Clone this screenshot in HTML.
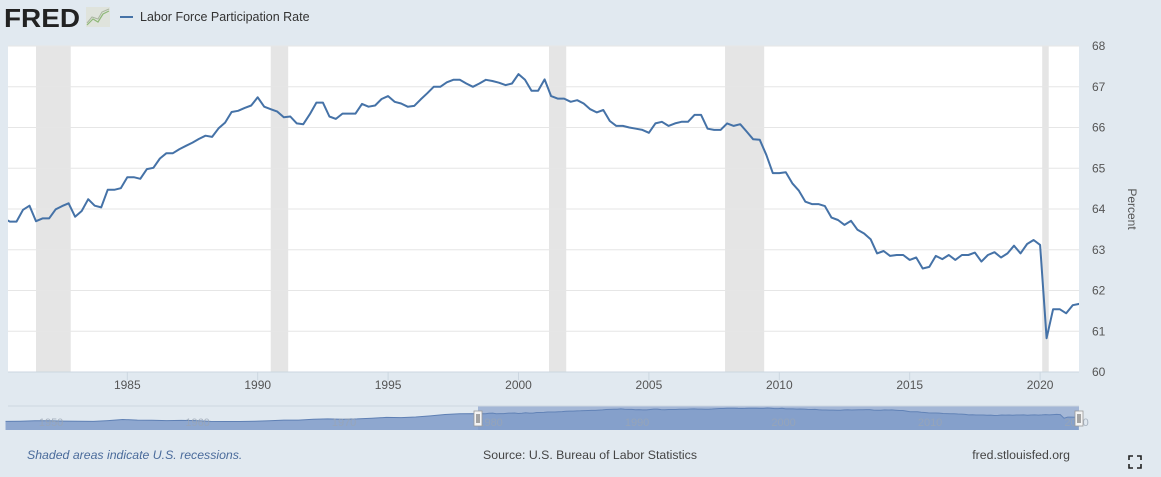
<!DOCTYPE html>
<html><head><meta charset="utf-8"><style>
body{margin:0;background:#e1e9f0;font-family:"Liberation Sans",sans-serif;}
svg{display:block}
</style></head><body>
<svg width="1161" height="477" viewBox="0 0 1161 477" xmlns="http://www.w3.org/2000/svg">
<rect width="1161" height="477" fill="#e1e9f0"/>
<g>
<text x="4" y="27" font-size="26" font-weight="bold" fill="#222" textLength="76" lengthAdjust="spacingAndGlyphs">FRED</text>
<rect x="86" y="7" width="24" height="20" fill="#dfe3dc"/>
<polyline points="87,25 93,19 98,22 103,14 109,11" fill="none" stroke="#8fb878" stroke-width="1.2"/>
<polyline points="87,23 92,17 98,19 102,12 109,9" fill="none" stroke="#aab6a0" stroke-width="1"/>
</g>
<g>
<line x1="120" y1="17" x2="133" y2="17" stroke="#4572a7" stroke-width="2"/>
<text x="140" y="21" font-size="12.5" fill="#333">Labor Force Participation Rate</text>
</g>
<rect x="8" y="46" width="1071" height="326" fill="#fff"/>
<g id="rec"></g><g id="grid"></g><g id="series"></g><g id="yax"></g><g id="xax"></g>
<text x="1128" y="209" font-size="12" fill="#555" text-anchor="middle" transform="rotate(90 1128 209)">Percent</text>
<g id="nav"></g>
<text x="27" y="459" font-size="12.3" font-style="italic" fill="#4a6b9b">Shaded areas indicate U.S. recessions.</text>
<text x="590" y="459" font-size="12.3" fill="#444" text-anchor="middle">Source: U.S. Bureau of Labor Statistics</text>
<text x="1070" y="459" font-size="12.3" fill="#444" text-anchor="end">fred.stlouisfed.org</text>
<g stroke="#222" stroke-width="1.6" fill="none">
<path d="M1129,460 v-4 h4 M1137,456 h4 v4 M1141,464 v4 h-4 M1133,468 h-4 v-4"/>
</g>
</svg>
<script>
const values = [63.77,63.69,63.69,63.98,64.08,63.70,63.77,63.77,63.99,64.07,64.14,63.81,63.95,64.24,64.08,64.04,64.47,64.47,64.51,64.78,64.78,64.74,64.98,65.01,65.24,65.37,65.37,65.47,65.55,65.63,65.72,65.80,65.77,65.98,66.12,66.38,66.41,66.48,66.54,66.74,
66.51,66.45,66.39,66.25,66.27,66.10,66.08,66.33,66.61,66.61,66.27,66.21,66.34,66.34,66.34,66.58,66.51,66.54,66.70,66.77,66.63,66.59,66.51,66.53,66.69,66.84,67.00,67.00,67.11,67.17,67.17,67.08,67.00,67.08,67.17,67.14,67.10,67.04,67.08,67.31,
67.17,66.90,66.90,67.18,66.77,66.71,66.71,66.63,66.67,66.59,66.45,66.37,66.43,66.16,66.04,66.04,66.00,65.97,65.94,65.87,66.10,66.14,66.04,66.10,66.14,66.14,66.31,66.31,65.97,65.94,65.94,66.10,66.04,66.08,65.90,65.71,65.70,65.33,64.88,64.88,
64.90,64.63,64.45,64.18,64.12,64.12,64.07,63.79,63.73,63.61,63.71,63.49,63.40,63.26,62.91,62.97,62.85,62.87,62.87,62.75,62.81,62.54,62.58,62.85,62.77,62.87,62.75,62.87,62.87,62.93,62.71,62.87,62.94,62.81,62.91,63.10,62.91,63.14,63.24,63.12,
60.83,61.54,61.54,61.44,61.64,61.67];
const startYear = 1980.25;
const recStart = [1981.5,1990.5,2001.17,2007.92,2020.08];
const recEnd = [1982.83,1991.17,2001.83,2009.42,2020.33];
const yTicks = [60,61,62,63,64,65,66,67,68];
const xTicks = [1985,1990,1995,2000,2005,2010,2015,2020];
const earlyYears = [1948,1949,1950,1951,1952,1953,1954,1955,1956,1957,1958,1959,1960,1961,1962,1963,1964,1965,1966,1967,1968,1969,1970,1971,1972,1973,1974,1975,1976,1977,1978,1979];
const earlyValues = [58.8,58.9,59.2,59.2,59.0,58.9,58.8,59.3,60.0,59.6,59.5,59.3,59.4,59.3,58.8,58.7,58.7,58.9,59.2,59.6,59.6,60.1,60.4,60.2,60.4,60.8,61.3,61.2,61.6,62.3,63.2,63.7];
const navLabels = [1950,1960,1970,1980,1990,2000,2010,2020];

const NS="http://www.w3.org/2000/svg";
const X0=8,X1=1079,Y0=46,Y1=372;
const x=t=>257.7+(t-1990)*26.08;
const y=v=>Y1-(v-60)*(Y1-Y0)/8;
const nx=t=>478+(t-1980.25)*14.65;
const ny=v=>430-(v-53.3)*1.57;
function mk(tag,attrs,parent){const e=document.createElementNS(NS,tag);for(const k in attrs)e.setAttribute(k,attrs[k]);document.getElementById(parent)?document.getElementById(parent).appendChild(e):parent.appendChild(e);return e;}

recStart.forEach((s,i)=>{const a=Math.max(X0,x(s)),b=Math.min(X1,x(recEnd[i]));
const r=mk('rect',{x:a,y:Y0,width:b-a,height:Y1-Y0,fill:'#e5e5e5'},'rec');

});
yTicks.forEach(v=>{
const l=mk('line',{x1:X0,x2:X1,y1:y(v),y2:y(v),stroke:v===60?'#ccd6e0':'#e6e6e6','stroke-width':1},'grid');


const t=mk('text',{x:1092,y:y(v)+4,'font-size':12,fill:'#555'},'yax');t.textContent=v;

});
xTicks.forEach(yr=>{
const l=mk('line',{x1:x(yr),x2:x(yr),y1:Y1,y2:Y1+8,stroke:'#ccd6e0'},'xax');


const t=mk('text',{x:x(yr),y:389,'font-size':12,fill:'#555','text-anchor':'middle'},'xax');t.textContent=yr;

});
const cp=mk('clipPath',{id:'pc'},document.querySelector('svg'));mk('rect',{x:X0,y:Y0,width:X1-X0,height:Y1-Y0},cp);
const pts=values.map((v,i)=>x(startYear+i*0.25).toFixed(1)+','+y(v).toFixed(1)).join(' ');
const line=mk('polyline',{points:pts,fill:'none',stroke:'#4572a7','stroke-width':2,'stroke-linejoin':'round','clip-path':'url(#pc)'},'series');



// navigator
mk('rect',{x:X0,y:406,width:X1-X0,height:24,fill:'#e1e9f0'},'nav');
mk('rect',{x:nx(1980.25),y:406,width:X1-nx(1980.25),height:24,fill:'#b7c6de'},'nav');
let np=earlyYears.map((yr,i)=>[nx(yr),ny(earlyValues[i])]);
values.forEach((v,i)=>np.push([nx(startYear+i*0.25),ny(v)]));
np=np.filter(p=>p[0]<=X1);
const area='M'+np[0][0]+',430 '+np.map(p=>'L'+p[0].toFixed(1)+','+p[1].toFixed(1)).join(' ')+' L'+np[np.length-1][0]+',430 Z';
const na=mk('path',{d:area,fill:'#8ea7cf'},'nav');


mk('polyline',{points:np.map(p=>p[0].toFixed(1)+','+p[1].toFixed(1)).join(' '),fill:'none',stroke:'#5f80b4','stroke-width':1},'nav');
mk('rect',{x:nx(1980.25),y:406,width:X1-nx(1980.25),height:24,fill:'#6b8cc0','fill-opacity':0.25},'nav');
navLabels.forEach(yr=>{const t=mk('text',{x:nx(yr)+4,y:426,'font-size':11,fill:'#9aa5b4','fill-opacity':0.8},'nav');t.textContent=yr;

});
mk('line',{x1:X0,x2:X1,y1:406,y2:406,stroke:'#cdd6e0'},'nav');
[nx(1980.25),X1].forEach(hx=>{const h=mk('rect',{x:hx-4,y:411,width:8,height:15,fill:'#f4f4f4',stroke:'#999','stroke-width':0.8},'nav');


mk('line',{x1:hx-1,x2:hx-1,y1:414,y2:423,stroke:'#555'},'nav');mk('line',{x1:hx+1,x2:hx+1,y1:414,y2:423,stroke:'#555'},'nav');});
</script>
</body></html>
